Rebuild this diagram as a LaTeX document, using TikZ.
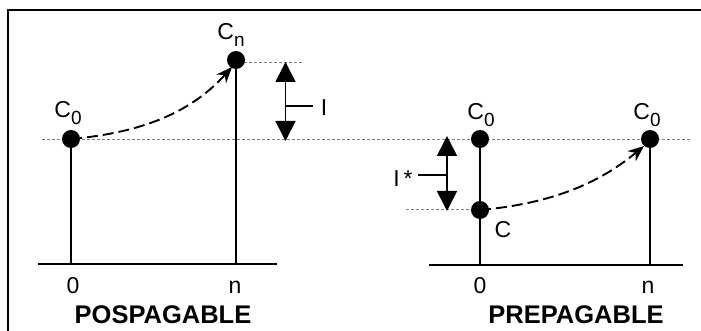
\documentclass[tikz,border=0pt]{standalone}
\usepackage{fontspec}
\setmainfont{Liberation Sans}
\usetikzlibrary{arrows.meta}
\tikzset{
  dot/.style={circle,fill=black,inner sep=0pt,minimum size=18pt},
  lbl/.style={inner sep=0pt,anchor=base,font=\fontsize{23}{23}\selectfont},
  ttl/.style={inner sep=0pt,anchor=base,font=\fontsize{25.5}{25.5}\selectfont\bfseries},
  stem/.style={line width=1.7pt},
  axisline/.style={line width=1.9pt},
  guide/.style={gray,line width=0.8pt,dash pattern=on 3pt off 2pt},
  path/.style={line width=1.9pt,dash pattern=on 11pt off 5pt,-{Stealth[length=16pt,width=13pt]}},
  dbl/.style={line width=1.7pt,{Triangle[length=20pt,width=20pt]}-{Triangle[length=20pt,width=20pt]}},
  tick/.style={line width=1.7pt},
  frame/.style={line width=2pt}
}
\newcommand{\subz}[1]{\raisebox{-7pt}{\fontsize{19}{19}\selectfont #1}}
\begin{document}
\begin{tikzpicture}[x=1pt,y=-1pt]
\useasboundingbox (0,0) rectangle (701,331);
% frame
\coordinate (f1) at (8,331);
\coordinate (f2) at (8,10.3);
\coordinate (f3) at (701,10.3);
\draw[frame] (f1) -- (f2) -- (f3);

% guide lines
\coordinate (g1a) at (42,139);
\coordinate (g1b) at (690,139);
\draw[guide] (g1a) -- (g1b);
\coordinate (g2a) at (244,62);
\coordinate (g2b) at (302,62);
\draw[guide] (g2a) -- (g2b);
\coordinate (g3a) at (406,209.5);
\coordinate (g3b) at (480,209.5);
\draw[guide] (g3a) -- (g3b);

% ---------- left: POSPAGABLE ----------
\coordinate (ax1a) at (38,264);
\coordinate (ax1b) at (277,264);
\draw[axisline] (ax1a) -- (ax1b);
\coordinate (l0) at (71,264);
\coordinate (ln) at (236,264);
\node[dot] (lc0) at (71,139) {};
\node[dot] (lcn) at (236,60) {};
\draw[stem] (lc0.center) -- (l0);
\draw[stem] (lcn.center) -- (ln);
\node[lbl] (tlc0) at (68,118) {C\subz{0}};
\node[lbl] (tlcn) at (231,40) {C\subz{n}};
\node[lbl] (tl0) at (73,293) {0};
\node[lbl] (tln) at (235,293) {n};
\node[ttl] (tpos) at (163,323) {POSPAGABLE};
\draw[path] (lc0.center) .. controls (150,132) and (195,108) .. (232,67);
\coordinate (ia) at (285.5,62);
\coordinate (ib) at (285.5,141);
\draw[dbl] (ia) -- (ib);
\coordinate (it1) at (285.5,106);
\coordinate (it2) at (313,106);
\draw[tick] (it1) -- (it2);
\node[lbl] (tI) at (324,116) {I};

% ---------- right: PREPAGABLE ----------
\coordinate (ax2a) at (429,265);
\coordinate (ax2b) at (683,265);
\draw[axisline] (ax2a) -- (ax2b);
\coordinate (r0) at (480,265);
\coordinate (rn) at (650,265);
\node[dot] (rc0) at (480,139) {};
\node[dot] (rc) at (480,210) {};
\node[dot] (rcn) at (650,139) {};
\draw[stem] (rc0.center) -- (r0);
\draw[stem] (rcn.center) -- (rn);
\node[lbl] (trc0) at (481,120) {C\subz{0}};
\node[lbl] (trcn) at (647,120) {C\subz{0}};
\node[lbl] (trc) at (503,237) {C};
\node[lbl] (tr0) at (480,293) {0};
\node[lbl] (trn) at (648,293) {n};
\node[ttl] (tpre) at (576,323) {PREPAGABLE};
\draw[path] (rc.center) .. controls (559,203) and (604,179) .. (644,146);
\coordinate (ja) at (447,136);
\coordinate (jb) at (447,211);
\draw[dbl] (ja) -- (jb);
\coordinate (jt1) at (447,175);
\coordinate (jt2) at (418,175);
\draw[tick] (jt1) -- (jt2);
\node[lbl] (tIs) at (403,187) {I\,*};
\end{tikzpicture}
\end{document}
